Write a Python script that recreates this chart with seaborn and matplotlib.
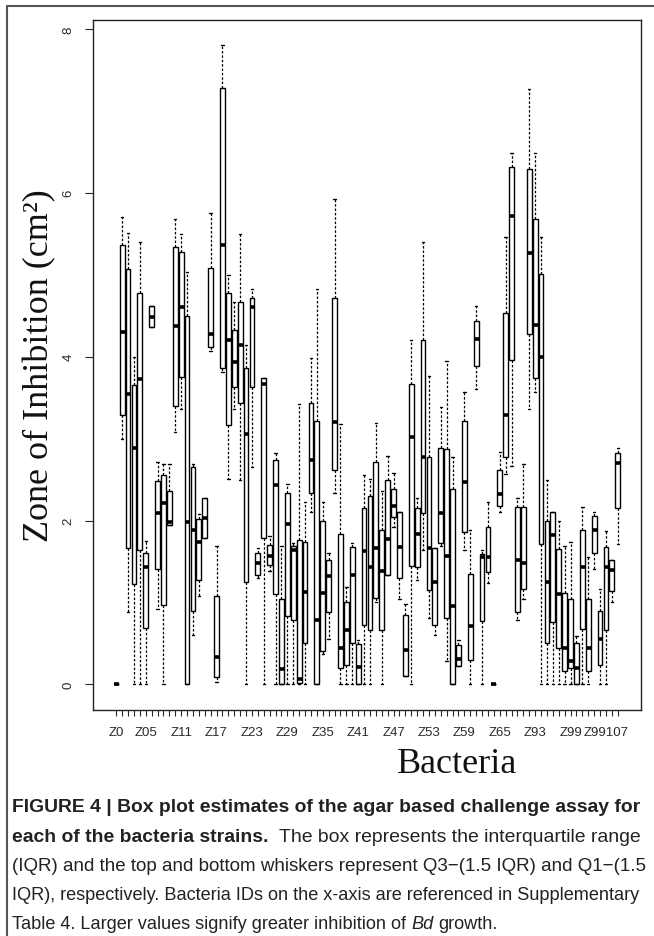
import numpy as np
import pandas as pd
import matplotlib
matplotlib.use("Agg")
import matplotlib.pyplot as plt
import seaborn as sns
from matplotlib.lines import Line2D

# ---------------- data (five-number summaries) ----------------
bacteria = (["Z0"] + [f"Z{i:02d}" for i in range(1, 71)] +
            ["Z93", "Z94", "Z95", "Z96", "Z97", "Z98", "Z99",
             "Z99101", "Z99102", "Z99103", "Z99104", "Z99105", "Z99107", "Z99108", "Z99109"])

lower_whisker = [0, 3.00, 0.88, 0, 0, 0, 4.36, 0.92, 0, 1.94,
                 3.08, 3.36, 0, 0.60, 1.08, 1.79, 4.07, 0.03, 3.81, 2.51,
                 3.36, 2.49, 0, 2.65, 1.30, 0, 1.39, 0, 0, 0,
                 0, 0, 0, 2.11, 0, 0.37, 0.55, 2.34, 0, 0,
                 0, 0, 0, 0, 1.00, 0, 1.33, 1.92, 1.04, 0.10,
                 0, 1.28, 1.64, 0.81, 0.60, 1.69, 0.28, 0, 0.23, 1.64,
                 0, 3.61, 0, 1.24, 0, 2.10, 2.57, 2.67, 0.79, 1.04,
                 3.36, 3.57, 0, 0, 0, 0, 0, 0, 0, 0,
                 0, 1.41, 0, 0, 1.00, 1.71]
q1 = [0, 3.29, 1.67, 1.22, 1.64, 0.69, 4.36, 1.41, 0.97, 1.94,
      3.40, 3.75, 0, 0.90, 1.28, 1.79, 4.12, 0.09, 3.86, 3.17,
      3.63, 3.44, 1.25, 3.63, 1.34, 1.79, 1.46, 1.10, 0, 0.83,
      0.79, 0.02, 0.50, 2.34, 0, 0.41, 0.88, 2.62, 0.20, 0.24,
      0.50, 0, 0.73, 0.66, 1.05, 0.67, 1.33, 2.04, 1.30, 0.10,
      1.44, 1.43, 2.09, 1.15, 0.72, 1.73, 0.81, 0, 0.23, 1.86,
      0.30, 3.89, 0.77, 1.37, 0, 2.18, 2.77, 3.96, 0.89, 1.17,
      4.28, 3.74, 1.71, 0.50, 0.76, 0.45, 0.16, 0.20, 0, 0.68,
      0.16, 1.60, 0.24, 0.67, 1.14, 2.15]
median = [0, 4.30, 3.55, 2.88, 3.73, 1.43, 4.48, 2.09, 2.22, 1.98,
          4.37, 4.60, 1.98, 1.89, 1.74, 2.03, 4.28, 0.34, 5.36, 4.20,
          3.93, 4.14, 3.06, 4.60, 1.48, 3.67, 1.57, 2.43, 0.19, 1.96,
          1.64, 0.07, 1.13, 2.74, 0.79, 1.11, 1.32, 3.20, 0.45, 0.66,
          1.33, 0.21, 1.63, 1.43, 1.67, 1.39, 1.78, 2.18, 1.68, 0.42,
          3.02, 1.83, 2.77, 1.66, 1.25, 2.09, 1.57, 0.96, 0.31, 2.47,
          0.71, 4.22, 1.55, 1.55, 0, 2.33, 3.29, 5.72, 1.52, 1.48,
          5.26, 4.39, 3.99, 1.25, 1.82, 1.10, 0.45, 0.28, 0.20, 1.43,
          0.45, 1.89, 0.56, 1.43, 1.40, 2.70]
q3 = [0, 5.36, 5.07, 3.65, 4.78, 1.61, 4.62, 2.48, 2.55, 2.36,
      5.34, 5.28, 4.50, 2.65, 2.02, 2.28, 5.08, 1.08, 7.28, 4.78,
      4.32, 4.67, 3.86, 4.71, 1.61, 3.74, 1.70, 2.74, 1.04, 2.34,
      1.69, 1.76, 1.74, 3.43, 3.22, 2.00, 1.52, 4.72, 1.83, 1.01,
      1.68, 0.49, 2.15, 2.30, 2.71, 1.89, 2.49, 2.38, 2.10, 0.85,
      3.67, 2.15, 4.20, 2.78, 1.67, 2.88, 2.87, 2.38, 0.48, 3.22,
      1.35, 4.43, 1.59, 1.92, 0, 2.62, 4.53, 6.32, 2.16, 2.16,
      6.29, 5.68, 5.01, 2.00, 2.10, 1.65, 1.11, 1.04, 0.50, 1.89,
      1.04, 2.06, 0.90, 1.68, 1.52, 2.83]
upper_whisker = [0, 5.70, 5.51, 3.99, 5.40, 1.75, 4.62, 2.71, 2.69, 2.69,
                 5.68, 5.50, 5.03, 2.69, 2.08, 2.28, 5.75, 1.69, 7.80, 5.00,
                 4.67, 5.50, 4.14, 4.82, 1.67, 3.74, 1.81, 2.83, 1.69, 2.44,
                 1.72, 3.42, 2.23, 3.98, 4.83, 2.23, 1.61, 5.93, 3.18, 1.19,
                 1.73, 0.54, 2.55, 2.51, 3.19, 2.36, 2.79, 2.58, 2.10, 0.98,
                 4.20, 2.27, 5.40, 3.77, 1.67, 3.38, 3.95, 2.77, 0.54, 3.57,
                 1.89, 4.62, 1.64, 2.23, 0, 2.84, 5.46, 6.48, 2.27, 2.69,
                 7.27, 6.48, 5.46, 2.49, 2.10, 2.00, 1.69, 1.74, 0.59, 2.16,
                 1.56, 2.11, 1.17, 1.87, 1.52, 2.88]

shown_tick_labels = {0: "Z0", 5: "Z05", 11: "Z11", 17: "Z17", 23: "Z23", 29: "Z29",
                     35: "Z35", 41: "Z41", 47: "Z47", 53: "Z53", 59: "Z59", 65: "Z65",
                     71: "Z93", 77: "Z99", 83: "Z99107"}
y_ticks = [0, 2, 4, 6, 8]

rows = []
for name, lo, a, m, b, hi in zip(bacteria, lower_whisker, q1, median, q3, upper_whisker):
    for v in (lo, a, m, b, hi):
        rows.append((name, v))
df = pd.DataFrame(rows, columns=["Bacteria", "Zone"])

# ---------------- figure ----------------
sns.set_theme(style="white")
plt.rcParams["font.family"] = ["Liberation Sans", "DejaVu Sans"]

W, H = 654, 937
fig = plt.figure(figsize=(W / 100, H / 100), dpi=100)
fig.patch.set_facecolor("white")

ax_l, ax_r, ax_t, ax_b = 93, 641, 20.7, 711
ax = fig.add_axes([ax_l / W, 1 - ax_b / H, (ax_r - ax_l) / W, (ax_b - ax_t) / H])

sns.boxplot(data=df, x="Bacteria", y="Zone", order=bacteria, ax=ax,
            whis=(0, 100), width=0.8, color="white", linecolor="black",
            linewidth=1.0, saturation=1, showfliers=False,
            medianprops=dict(color="black", linewidth=2.6, solid_capstyle="butt"),
            whiskerprops=dict(linestyle=(0, (2, 1.5)), linewidth=0.9),
            capprops=dict(linewidth=1.0))

n = len(bacteria)
pad_x = 0.04 * n
ax.set_xlim(-0.5 - pad_x, n - 0.5 + pad_x)
ymax = max(upper_whisker)
ax.set_ylim(-0.04 * ymax, ymax * 1.04)

ax.set_xticks(range(n))
ax.set_xticklabels([shown_tick_labels.get(i, "") for i in range(n)])
ax.set_yticks(y_ticks)
ax.set_yticklabels([str(t) for t in y_ticks], rotation=90, va="center")
ax.tick_params(axis="x", bottom=True, length=4.3, width=0.8, direction="out",
               pad=7, labelsize=9.5, colors="#2a2a2a")
ax.tick_params(axis="y", left=True, length=5.8, width=0.8, direction="out",
               pad=7.5, labelsize=9.5, colors="#2a2a2a")
ax.set_xlabel("")
ax.set_ylabel("")
for s in ax.spines.values():
    s.set_visible(True)
    s.set_color("#222222")
    s.set_linewidth(1.0)

serif = ["Liberation Serif", "DejaVu Serif"]
fig.text(40 / W, 1 - 366 / H, "Zone of Inhibition (cm²)", rotation=90,
         ha="center", va="center", family=serif, fontsize=26, color="#111111")
fig.text(457 / W, 1 - 765 / H, "Bacteria", ha="center", va="center",
         family=serif, fontsize=26, color="#111111")

# page frame lines
fig.add_artist(Line2D([7 / W, 1], [1 - 6.5 / H, 1 - 6.5 / H], transform=fig.transFigure,
                      color="#555555", lw=1.5))
fig.add_artist(Line2D([7 / W, 7 / W], [0, 1 - 6.5 / H], transform=fig.transFigure,
                      color="#555555", lw=1.5))

# caption
cap_fam = ["Liberation Sans", "DejaVu Sans"]
renderer = fig.canvas.get_renderer()

def measure(runs, size):
    total = 0.0
    for txt, weight, style, gap in runs:
        t = fig.text(0, 0, txt, fontsize=size, fontweight=weight, fontstyle=style,
                     family=cap_fam)
        total += t.get_window_extent(renderer=renderer).width
        t.remove()
        total += gap * 0.28 * size * 100 / 72
    return total

def draw_runs(x_px, y_px, runs, size):
    x = x_px
    sp = 0.28 * size * 100 / 72
    for txt, weight, style, gap in runs:
        x += gap * sp
        t = fig.text(x / W, 1 - y_px / H, txt, fontsize=size, fontweight=weight,
                     fontstyle=style, ha="left", va="baseline", family=cap_fam,
                     color="#222222")
        x = t.get_window_extent(renderer=renderer).x1

caption = [
    (812, 628, [("FIGURE 4 | Box plot estimates of the agar based challenge assay for", "bold", "normal", 0)]),
    (842, 629, [("each of the bacteria strains.", "bold", "normal", 0),
                ("The box represents the interquartile range", "normal", "normal", 2)]),
    (871, 636, [("(IQR) and the top and bottom whiskers represent Q3\u2212(1.5 IQR) and Q1\u2212(1.5", "normal", "normal", 0)]),
    (900, 629, [("IQR), respectively. Bacteria IDs on the x-axis are referenced in Supplementary", "normal", "normal", 0)]),
    (929, None, [("Table 4. Larger values signify greater inhibition of", "normal", "normal", 0),
                 ("Bd", "normal", "italic", 1),
                 ("growth.", "normal", "normal", 1)]),
]
x0 = 12
last = 12.0
for y_px, target, runs in caption:
    size = 10 * target / measure(runs, 10) if target else last
    last = size
    draw_runs(x0, y_px, runs, size)

fig.savefig("out.png", dpi=100, facecolor="white")
